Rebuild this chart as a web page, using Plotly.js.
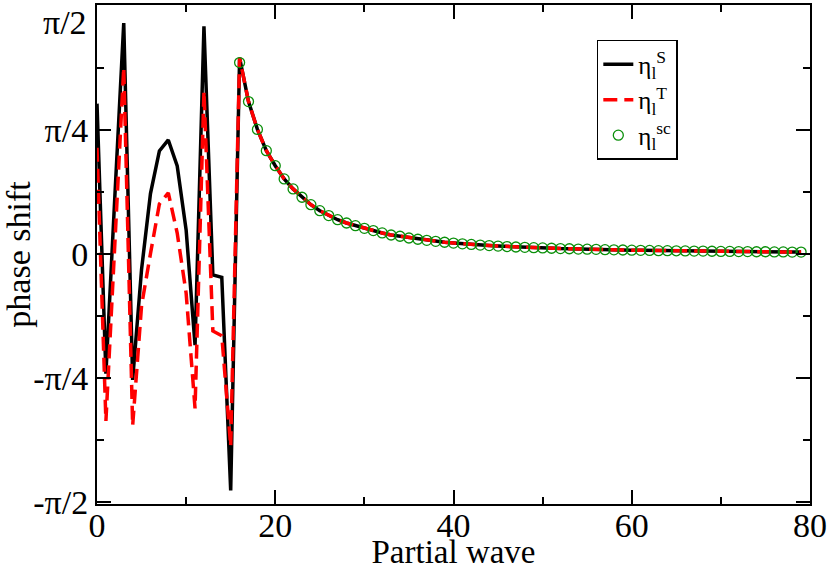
<!DOCTYPE html>
<html>
<head>
<meta charset="utf-8">
<script src="https://cdn.plot.ly/plotly-3.0.1.min.js"></script>
<style>
  body { margin: 0; background: #fff; }
  #chart { width: 830px; height: 570px; }
</style>
</head>
<body>
<div id="chart"></div>
<script>
// partial waves l = 0..79
var waves = [];
for (var l = 0; l < 80; l++) waves.push(l);

// low partial waves (l = 0..15), radians
var singletLow = [0.95, -0.76, 0.36, 1.46, -0.80, -0.10, 0.38, 0.65, 0.72, 0.555,
                  0.15, -0.58, 1.44, -0.135, -0.15, -1.50];
var tripletLow = [0.67, -1.06, 0.06, 1.18, -1.09, -0.33, 0.00, 0.315, 0.385, 0.13,
                  -0.25, -0.98, 1.03, -0.49, -0.52, -1.22];

// l = 16..79, where the curves and the circles coincide
var tail = [1.24, 0.963, 0.787, 0.652, 0.557, 0.473, 0.410, 0.357, 0.310, 0.272,
            0.241, 0.215, 0.194, 0.177, 0.160, 0.146, 0.131, 0.118, 0.110, 0.099,
            0.091, 0.084, 0.078, 0.072, 0.067, 0.062, 0.058, 0.054, 0.051, 0.048,
            0.045, 0.042, 0.040, 0.038, 0.036, 0.034, 0.032, 0.031, 0.029, 0.028,
            0.027, 0.025, 0.024, 0.023, 0.022, 0.021, 0.020, 0.019, 0.019, 0.018,
            0.017, 0.016, 0.016, 0.015, 0.014, 0.014, 0.013, 0.013, 0.012, 0.012,
            0.011, 0.011, 0.010, 0.010];
var scWaves = waves.slice(16);
var scVals = [1.21].concat(tail.slice(1));

var singlet = singletLow.concat(tail);
var triplet = tripletLow.concat(tail);

// the top label (pi/2) sits below its tick, drawn as an annotation
var yTickVals = [-Math.PI / 2, -Math.PI / 4, 0, Math.PI / 4, Math.PI / 2];
var yTickText = ["-\u03c0/2", "-\u03c0/4", "0", "\u03c0/4", ""];
var yTopLabel = "\u03c0/2";
var yMinorVals = [-3 * Math.PI / 8, -Math.PI / 8, Math.PI / 8, 3 * Math.PI / 8];

var serif = "Liberation Serif, Times New Roman, serif";

var traceS = {
  x: waves, y: singlet, mode: "lines", name: "\u03b7<sub>l</sub><sup>S</sup>",
  line: { color: "#000000", width: 3.5 }
};
var traceT = {
  x: waves, y: triplet, mode: "lines", name: "\u03b7<sub>l</sub><sup>T</sup>",
  line: { color: "#ff0000", width: 3.5, dash: "14px,7px" }
};
var traceSc = {
  x: scWaves, y: scVals, mode: "markers", name: "\u03b7<sub>l</sub><sup>sc</sup>",
  marker: { symbol: "circle-open", size: 10, color: "#0a8f0a", line: { width: 1.3 } }
};

var axisCommon = {
  showline: true, linecolor: "#000", linewidth: 2, mirror: "allticks",
  ticks: "inside", ticklen: 14, tickwidth: 2, tickcolor: "#000",
  showgrid: false, zeroline: false,
  tickfont: { family: serif, size: 34, color: "#000" }
};

var layout = {
  width: 830, height: 570,
  margin: { l: 97, r: 20, t: 5, b: 66 },
  paper_bgcolor: "#fff", plot_bgcolor: "#fff",
  showlegend: true,
  legend: {
    x: 0.701, y: 0.93, xanchor: "left", yanchor: "top",
    bordercolor: "#000", borderwidth: 1.5, bgcolor: "#fff",
    font: { family: serif, size: 25, color: "#000" }
  },
  xaxis: Object.assign({}, axisCommon, {
    range: [0, 80], tickmode: "linear", tick0: 0, dtick: 20,
    ticklabelstandoff: -10,
    minor: { ticks: "inside", ticklen: 7, tickwidth: 2, tickcolor: "#000", dtick: 10, showgrid: false },
    title: { text: "Partial wave", font: { family: serif, size: 33, color: "#000" }, standoff: 14 }
  }),
  yaxis: Object.assign({}, axisCommon, {
    range: [-Math.PI / 2 - 0.015, Math.PI / 2 + 0.004],
    tickmode: "array", tickvals: yTickVals, ticktext: yTickText,
    minor: { ticks: "inside", ticklen: 7, tickwidth: 2, tickcolor: "#000", tickmode: "array", tickvals: yMinorVals, showgrid: false },
    title: { text: "phase shift", font: { family: serif, size: 34, color: "#000" }, standoff: 14 }
  }),
  annotations: [{
    xref: "paper", yref: "y", x: 0, y: yTickVals[4], text: yTopLabel,
    xanchor: "right", yanchor: "top", xshift: -8, yshift: 4, showarrow: false,
    font: { family: serif, size: 34, color: "#000" }
  }]
};

Plotly.newPlot("chart", [traceS, traceT, traceSc], layout, { displayModeBar: false, staticPlot: true });
</script>
</body>
</html>
